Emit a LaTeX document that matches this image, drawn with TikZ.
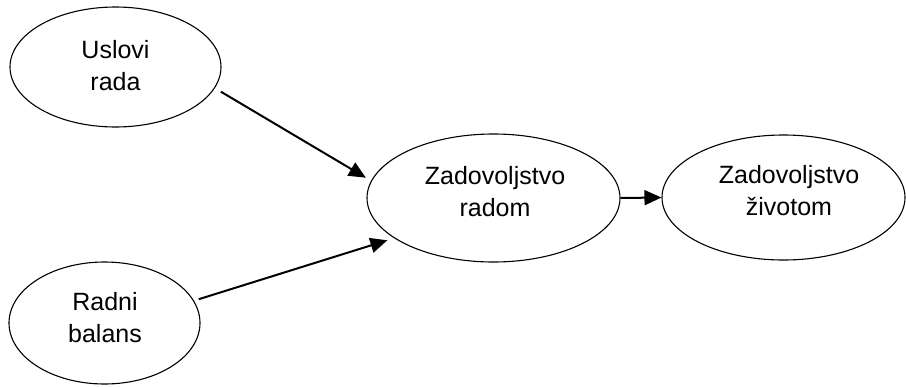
\documentclass[tikz,border=0pt]{standalone}
\usepackage{fontspec}
\setmainfont{Liberation Sans}
\usetikzlibrary{shapes.geometric,arrows.meta}
\begin{document}
\begin{tikzpicture}[x=1pt,y=-1pt,
  concept/.style={draw, ellipse, line width=1.1pt, inner sep=0pt},
  words/.style={align=center, inner sep=0pt, font=\fontsize{25}{32}\selectfont},
  link/.style={line width=2pt, -{Triangle[length=17pt,width=15pt]}}]
  \useasboundingbox (0,0) rectangle (906,386);
  % factors
  \node[concept, minimum width=211pt, minimum height=120pt] (uslovi) at (115.5,67) {};
  \node[words] (uslovi-t) at (115.5,66) {Uslovi\\rada};
  \node[concept, minimum width=191pt, minimum height=122pt] (balans) at (104.5,323) {};
  \node[words] (balans-t) at (105,318) {Radni\\balans};
  % outcomes
  \node[concept, minimum width=253pt, minimum height=128pt] (posao) at (493.5,198) {};
  \node[words] (posao-t) at (495,192) {Zadovoljstvo\\radom};
  \node[concept, minimum width=243pt, minimum height=125pt] (zivot) at (783.5,197.5) {};
  \node[words] (zivot-t) at (789,191) {Zadovoljstvo\\životom};
  % paths
  \draw[link, shorten <=7pt, shorten >=6pt] (uslovi.-12) -- (posao.172);
  \draw[link, shorten <=5pt, shorten >=7pt] (balans.14) -- (posao.202);
  \draw[link] (posao.east) -- (zivot.west);
\end{tikzpicture}
\end{document}
